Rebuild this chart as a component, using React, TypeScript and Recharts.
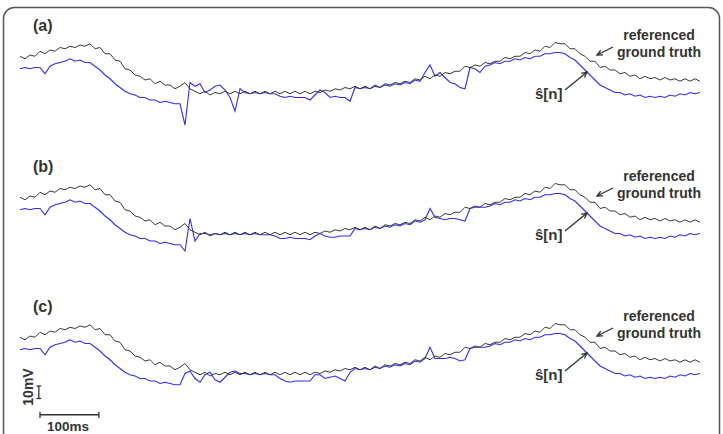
import { LineChart, Line, XAxis, YAxis, ReferenceLine } from 'recharts';

// samples are ~8.5 ms apart, amplitudes in mV
const SAMPLE_MS = 8.5;

const GROUND_TRUTH = [
  35, 33, 36, 35, 39, 37, 40, 39, 42, 41,
  43, 42, 44, 43, 45, 41, 42, 37, 37, 32,
  31, 25, 24, 20, 19, 16, 17, 13, 15, 12,
  12, 9, 11, 14, 9, 7, 5, 7, 4, 6,
  5, 7, 5, 7, 5, 7, 5, 7, 5, 7,
  5, 7, 5, 7, 5, 7, 5, 7, 5, 7,
  6, 8, 7, 9, 8, 10, 9, 11, 9, 11,
  9, 12, 10, 13, 12, 14, 13, 15, 14, 17,
  16, 19, 17, 20, 19, 22, 21, 23, 23, 27,
  26, 28, 27, 30, 29, 31, 31, 34, 33, 35,
  35, 38, 37, 40, 39, 43, 42, 46, 45, 45,
  41, 41, 37, 35, 31, 31, 26, 27, 24, 24,
  21, 22, 19, 20, 17, 19, 17, 18, 16, 18,
  16, 17, 15, 17, 15, 17, 15,
];

const ESTIMATE_A = [
  25, 26, 25, 26, 26, 21, 27, 29, 30, 31,
  33, 31, 32, 30, 30, 27, 24, 20, 17, 13,
  10, 7, 5, 4, 2, 2, 0, 0, -2, -1,
  -2, -3, -3, -20, 14, 11, 13, 6, 8, 11,
  12, 8, 2, -9, 9, 6, 5, 6, 5, 6,
  5, 5, 3, 2, 3, 2, 2, 2, 0, 4,
  8, 6, 2, 3, 2, 2, -1, 10, 9, 10,
  9, 11, 10, 12, 11, 13, 12, 14, 13, 16,
  15, 22, 28, 19, 22, 18, 14, 13, 10, 9,
  26, 25, 22, 27, 28, 30, 29, 31, 31, 33,
  32, 34, 33, 35, 35, 37, 37, 38, 38, 37,
  34, 32, 28, 24, 20, 16, 12, 10, 8, 6,
  6, 4, 5, 3, 4, 2, 3, 2, 3, 2,
  4, 3, 5, 4, 6, 5, 6,
];

const ESTIMATE_B = [
  25, 26, 25, 26, 26, 21, 27, 29, 30, 31,
  33, 31, 32, 30, 30, 27, 24, 20, 17, 13,
  10, 7, 5, 4, 2, 2, 0, 0, -2, -1,
  -2, -3, -3, -8, 18, 0, 6, 6, 5, 6,
  5, 6, 5, 6, 5, 6, 5, 6, 5, 5,
  5, 4, 2, 2, 3, 2, 2, 2, 1, 4,
  6, 4, 3, 3, 4, 4, 4, 10, 9, 10,
  9, 11, 10, 12, 11, 13, 12, 14, 13, 16,
  15, 17, 26, 19, 18, 17, 18, 18, 17, 16,
  26, 27, 27, 27, 28, 30, 29, 31, 31, 33,
  32, 34, 33, 35, 35, 37, 37, 38, 38, 37,
  34, 32, 28, 24, 20, 16, 12, 10, 8, 6,
  6, 4, 5, 3, 4, 2, 3, 2, 3, 2,
  4, 3, 5, 4, 6, 5, 6,
];

const ESTIMATE_C = [
  25, 26, 25, 26, 26, 21, 27, 29, 30, 31,
  33, 31, 32, 30, 30, 27, 24, 20, 17, 13,
  10, 7, 5, 4, 2, 2, 0, 0, -2, -1,
  -2, -3, -3, 6, 8, 2, -1, 5, 7, 1,
  -1, 3, 7, 8, 6, 6, 5, 6, 5, 6,
  5, 5, 2, 0, -1, 0, 0, 0, 0, 5,
  5, 2, 3, 4, 2, 0, 7, 10, 9, 10,
  9, 11, 10, 12, 11, 13, 12, 14, 13, 16,
  15, 18, 27, 18, 18, 18, 19, 18, 16, 17,
  26, 27, 27, 27, 28, 30, 29, 31, 31, 33,
  32, 34, 33, 35, 35, 37, 37, 38, 38, 37,
  34, 32, 28, 24, 20, 16, 12, 10, 8, 6,
  6, 4, 5, 3, 4, 2, 3, 2, 3, 2,
  4, 3, 5, 4, 6, 5, 6,
];

const PANEL_LABELS = ['(a)', '(b)', '(c)'];
const ESTIMATES = [ESTIMATE_A, ESTIMATE_B, ESTIMATE_C];
const PANEL_TOPS = [0, 141, 281];
const SCALE_MS = 100;
const SCALE_MV = 10;

const FONT = '"Liberation Sans", Arial, sans-serif';
const TRUTH_COLOR = '#3a3a3a';
const EST_COLOR = '#2f2ff0';
const INK = '#333';

const T_MAX = (GROUND_TRUTH.length - 1) * SAMPLE_MS;

function Panel({ estimate, top, withScale }: { estimate: number[]; top: number; withScale: boolean }) {
  const data = GROUND_TRUTH.map((v, i) => ({ t: i * SAMPLE_MS, truth: v, est: estimate[i] }));
  const x0 = 34;
  const yBar = -27;
  return (
    <div style={{ position: 'absolute', left: 0, top }}>
      <LineChart width={723} height={140} data={data} margin={{ top: 0, right: 23, bottom: 0, left: 20 }}>
        <XAxis dataKey="t" type="number" domain={[0, T_MAX]} hide />
        <YAxis type="number" domain={[-32, 80]} hide />
        <Line type="linear" dataKey="est" stroke={EST_COLOR} strokeWidth={1.1} dot={false} isAnimationActive={false} />
        <Line type="linear" dataKey="truth" stroke={TRUTH_COLOR} strokeWidth={1} dot={false} isAnimationActive={false} />
        {withScale && (
          <>
            <ReferenceLine segment={[{ x: x0, y: yBar }, { x: x0 + SCALE_MS, y: yBar }]} stroke={INK} strokeWidth={1.3} />
            <ReferenceLine segment={[{ x: x0, y: yBar - 2.5 }, { x: x0, y: yBar + 2.5 }]} stroke={INK} strokeWidth={1.3} />
            <ReferenceLine segment={[{ x: x0 + SCALE_MS, y: yBar - 2.5 }, { x: x0 + SCALE_MS, y: yBar + 2.5 }]} stroke={INK} strokeWidth={1.3} />
            <ReferenceLine segment={[{ x: x0 - 2, y: -14 }, { x: x0 - 2, y: -14 + SCALE_MV }]} stroke={INK} strokeWidth={1.3} />
            <ReferenceLine segment={[{ x: x0 - 6, y: -14 }, { x: x0 + 2, y: -14 }]} stroke={INK} strokeWidth={1.3} />
            <ReferenceLine segment={[{ x: x0 - 6, y: -14 + SCALE_MV }, { x: x0 + 2, y: -14 + SCALE_MV }]} stroke={INK} strokeWidth={1.3} />
          </>
        )}
      </LineChart>
    </div>
  );
}

function Arrow({ x1, y1, x2, y2 }: { x1: number; y1: number; x2: number; y2: number }) {
  const a = Math.atan2(y2 - y1, x2 - x1);
  const h = 6;
  const p1 = [x2 - h * Math.cos(a - 0.45), y2 - h * Math.sin(a - 0.45)];
  const p2 = [x2 - h * Math.cos(a + 0.45), y2 - h * Math.sin(a + 0.45)];
  return (
    <g stroke={INK} strokeWidth={1.3} fill="none">
      <line x1={x1} y1={y1} x2={x2} y2={y2} />
      <polyline points={`${p1[0]},${p1[1]} ${x2},${y2} ${p2[0]},${p2[1]}`} />
    </g>
  );
}

export default function App() {
  return (
    <div style={{ position: 'absolute', left: 0, top: 0, width: 723, height: 434, background: '#fff', overflow: 'hidden', fontFamily: FONT }}>
      {ESTIMATES.map((est, i) => (
        <Panel key={i} estimate={est} top={PANEL_TOPS[i]} withScale={i === 2} />
      ))}
      <svg width={723} height={434} style={{ position: 'absolute', left: 0, top: 0, pointerEvents: 'none' }}>
        <rect x={3.5} y={7.5} width={716} height={450} rx={11} fill="none" stroke="#555" strokeWidth={1.5} />
        {PANEL_TOPS.map((top, i) => (
          <g key={i} fontFamily={FONT} fontWeight="bold" fill={INK}>
            <text x={33} y={top + 31} fontSize={16}>{PANEL_LABELS[i]}</text>
            <text x={659} y={top + 40} fontSize={14} textAnchor="middle">referenced</text>
            <text x={659} y={top + 57} fontSize={14} textAnchor="middle">ground truth</text>
            <text x={535} y={top + 99} fontSize={15}>ŝ[n]</text>
            <Arrow x1={613} y1={top + 47} x2={597} y2={top + 55} />
            <Arrow x1={565} y1={top + 90} x2={587} y2={top + 72} />
          </g>
        ))}
        <text x={0} y={0} transform="translate(33 387) rotate(-90)" fontFamily={FONT} fontWeight="bold" fontSize={14} fill={INK} textAnchor="middle">10mV</text>
        <text x={68} y={431} fontFamily={FONT} fontWeight="bold" fontSize={13.5} fill={INK} textAnchor="middle">100ms</text>
      </svg>
    </div>
  );
}
